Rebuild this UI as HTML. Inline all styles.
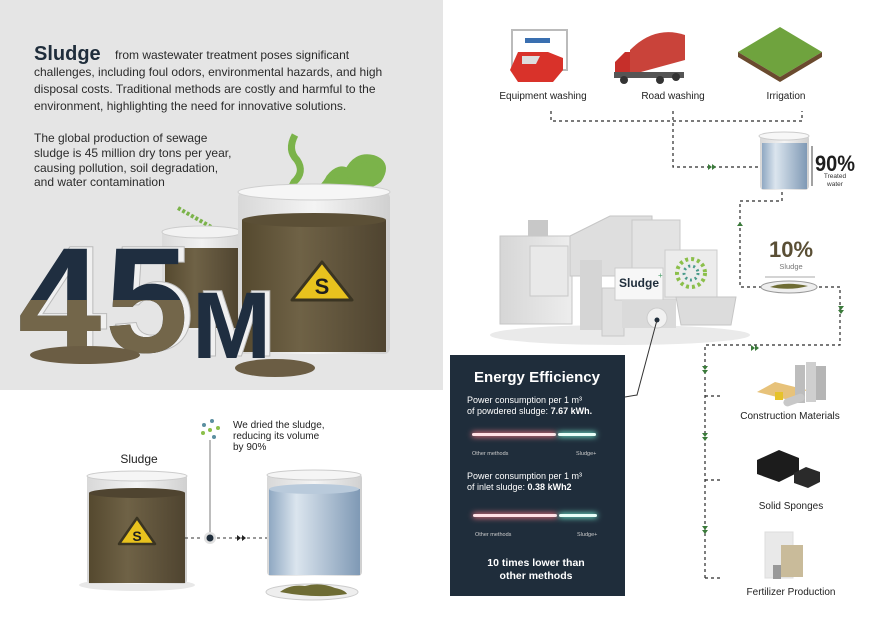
<!DOCTYPE html>
<html><head><meta charset="utf-8"><style>
html,body{margin:0;padding:0;background:#fff;}
svg{display:block;font-family:"Liberation Sans",sans-serif;}
</style></head><body>
<svg width="886" height="627" viewBox="0 0 886 627" xmlns="http://www.w3.org/2000/svg">
<defs>
<linearGradient id="glass" x1="0" x2="1"><stop offset="0" stop-color="#d8d8d8"/><stop offset="0.5" stop-color="#f4f4f4"/><stop offset="1" stop-color="#d0d0d0"/></linearGradient>
<linearGradient id="water" x1="0" x2="1"><stop offset="0" stop-color="#8fa8c2"/><stop offset="0.3" stop-color="#dbe5ee"/><stop offset="1" stop-color="#7f99b5"/></linearGradient>
<linearGradient id="mud" x1="0" x2="1"><stop offset="0" stop-color="#55492f"/><stop offset="0.4" stop-color="#6f6246"/><stop offset="1" stop-color="#4f4430"/></linearGradient>
<linearGradient id="mach" x1="0" x2="1"><stop offset="0" stop-color="#d6d6d6"/><stop offset="1" stop-color="#ededed"/></linearGradient>
<filter id="glow" x="-20%" y="-200%" width="140%" height="500%"><feGaussianBlur stdDeviation="3"/></filter>
<clipPath id="lowclip"><rect x="0" y="300" width="300" height="80"/></clipPath>
</defs>

<rect x="0" y="0" width="443" height="390" fill="#e5e5e5"/>
<text x="34" y="60" font-size="20" font-weight="bold" fill="#1f2d3b">Sludge</text>
<g font-size="12" fill="#2b2b2b">
<text x="115" y="59">from wastewater treatment poses significant</text>
<text x="34" y="76">challenges, including foul odors, environmental hazards, and high</text>
<text x="34" y="93">disposal costs. Traditional methods are costly and harmful to the</text>
<text x="34" y="110">environment, highlighting the need for innovative solutions.</text>
<text x="34" y="142">The global production of sewage</text>
<text x="34" y="157">sludge is 45 million dry tons per year,</text>
<text x="34" y="172">causing pollution, soil degradation,</text>
<text x="34" y="186">and water contamination</text>
</g>

<path d="M295 135 q-8 15 2 25 q8 12 -3 22 q-6 10 5 18" stroke="#7bb34a" stroke-width="7" fill="none"/>
<path d="M310 198 q15 -10 20 -20 q10 -12 18 -5 q8 -18 25 -14 q15 5 5 20 q-10 8 -25 6" stroke="#7bb34a" stroke-width="8" fill="#7bb34a"/>
<path d="M178 208 l35 20" stroke="#7bb34a" stroke-width="4" stroke-dasharray="3 2"/>

<rect x="162" y="230" width="80" height="100" fill="url(#glass)" opacity="0.8"/>
<rect x="165" y="248" width="75" height="80" fill="url(#mud)"/>
<ellipse cx="202" cy="232" rx="40" ry="6" fill="#f2f2f2" stroke="#ccc"/>

<rect x="238" y="192" width="152" height="162" rx="6" fill="url(#glass)"/>
<ellipse cx="314" cy="192" rx="76" ry="8" fill="#f6f6f6" stroke="#cfcfcf"/>
<rect x="242" y="220" width="144" height="132" fill="url(#mud)"/>
<ellipse cx="314" cy="220" rx="72" ry="7" fill="#5b4f36"/>
<path d="M322 262 l30 38 h-60 z" fill="#e8c21e" stroke="#3a3422" stroke-width="3" stroke-linejoin="round"/>
<text x="322" y="294" font-size="22" font-weight="bold" fill="#1e1e1e" text-anchor="middle">S</text>

<!-- 45M with 3D side -->
<g font-weight="bold" fill="#f0f0f0" stroke="#bbb" stroke-width="1">
<text x="24" y="350" font-size="150">4</text>
<text x="111" y="350" font-size="150">5</text>
<text x="197" y="356" font-size="95">M</text>
</g>
<g font-weight="bold" fill="#1f2e40">
<text x="18" y="352" font-size="150">4</text>
<text x="105" y="352" font-size="150">5</text>
<text x="192" y="358" font-size="95">M</text>
</g>
<g font-weight="bold" fill="#73664a" clip-path="url(#lowclip)">
<text x="18" y="352" font-size="150">4</text>
<text x="105" y="352" font-size="150">5</text>
</g>
<ellipse cx="85" cy="355" rx="55" ry="9" fill="#6b5d44"/>
<ellipse cx="275" cy="368" rx="40" ry="9" fill="#6b5d44"/>

<text x="139" y="463" font-size="12" fill="#222" text-anchor="middle">Sludge</text>
<ellipse cx="137" cy="585" rx="58" ry="6" fill="#e8e8e8"/>
<rect x="87" y="474" width="100" height="110" rx="4" fill="url(#glass)"/>
<rect x="89" y="493" width="96" height="90" fill="url(#mud)"/>
<ellipse cx="137" cy="493" rx="48" ry="5" fill="#4f4430"/>
<ellipse cx="137" cy="476" rx="50" ry="5" fill="#f5f5f5" stroke="#ccc"/>
<path d="M137 518 l18 26 h-36 z" fill="#e8c21e" stroke="#3a3422" stroke-width="2.5" stroke-linejoin="round"/>
<text x="137" y="541" font-size="14" font-weight="bold" fill="#1e1e1e" text-anchor="middle">S</text>

<line x1="210" y1="440" x2="210" y2="536" stroke="#bdbdbd" stroke-width="2"/>
<g fill="#5b8fa0"><circle cx="204" cy="425" r="2"/><circle cx="212" cy="421" r="2"/><circle cx="218" cy="428" r="2" fill="#8bbf4a"/><circle cx="203" cy="433" r="2" fill="#8bbf4a"/><circle cx="214" cy="437" r="2"/><circle cx="210" cy="430" r="2" fill="#8bbf4a"/></g>
<circle cx="210" cy="538" r="6" fill="#e0e0e0"/><circle cx="210" cy="538" r="3.5" fill="#1f2d3b"/>
<line x1="185" y1="538" x2="203" y2="538" stroke="#333" stroke-dasharray="3 3"/>
<line x1="217" y1="538" x2="270" y2="538" stroke="#333" stroke-dasharray="3 3"/>
<path d="M237 535 l4 3 l-4 3 z M242 535 l4 3 l-4 3 z" fill="#222"/>
<g font-size="10" fill="#222"><text x="233" y="428">We dried the sludge,</text><text x="233" y="439">reducing its volume</text><text x="233" y="450">by 90%</text></g>

<rect x="267" y="474" width="95" height="102" rx="4" fill="url(#glass)"/>
<rect x="269" y="489" width="91" height="86" fill="url(#water)"/>
<ellipse cx="314" cy="489" rx="45" ry="5" fill="#b9cadb"/>
<ellipse cx="314" cy="475" rx="47" ry="5" fill="#f5f5f5" stroke="#ccc"/>
<ellipse cx="312" cy="592" rx="46" ry="8" fill="#eee" stroke="#ccc"/>
<path d="M280 592 q10 -8 25 -6 q15 -4 30 2 q10 2 12 6 q-30 5 -67 -2z" fill="#6e6c34"/>

<g>
<rect x="512" y="30" width="55" height="40" fill="none" stroke="#bbb" stroke-width="2"/>
<rect x="525" y="38" width="25" height="5" fill="#3a6fb0"/>
<path d="M510 70 l8 -18 h30 l15 6 v12 l-10 12 h-35 z" fill="#d9322a"/>
<path d="M522 56 h18 l-4 8 h-14 z" fill="#ddd"/>
<path d="M615 62 l10 -10 h10 v25 h-20 z" fill="#c62f2a"/>
<path d="M630 50 q25 -25 55 -15 v25 l-55 15 z" fill="#c9433a"/>
<rect x="614" y="72" width="70" height="6" fill="#555"/>
<circle cx="624" cy="80" r="4" fill="#333"/><circle cx="660" cy="80" r="4" fill="#333"/><circle cx="676" cy="77" r="4" fill="#333"/>
<path d="M738 52 l42 -25 l42 25 l-42 25 z" fill="#6fa33e"/>
<path d="M738 52 v5 l42 25 l42 -25 v-5 l-42 25 z" fill="#6a4a2e"/>
</g>
<g font-size="10" fill="#222" text-anchor="middle">
<text x="543" y="99">Equipment washing</text><text x="673" y="99">Road washing</text><text x="786" y="99">Irrigation</text>
</g>
<g stroke="#2a2a2a" stroke-dasharray="3 3" fill="none" stroke-width="1.2">
<path d="M551 111 V121 H802 V111"/>
<path d="M673 111 V167 H760"/>
<path d="M782 192 V201 H740 V287 H840 V345 H705 V578"/>
<path d="M705 396 H723 M705 480 H723 M705 578 H723"/>
</g>
<g fill="#3a7a3a">
<path d="M712 167 l-4 -3 v6 z M716 167 l-4 -3 v6 z"/>
<path d="M740 222 l-3 4 h6 z"/>
<path d="M841 310 l-3 -4 h6 z M841 314 l-3 -4 h6 z"/>
<path d="M755 348 l-4 -3 v6 z M759 348 l-4 -3 v6 z"/>
<path d="M705 370 l-3 -4 h6z M705 374 l-3 -4 h6z M705 437 l-3 -4 h6z M705 441 l-3 -4 h6z M705 530 l-3 -4 h6z M705 534 l-3 -4 h6z"/>
</g>

<rect x="760" y="135" width="49" height="55" rx="4" fill="url(#glass)"/>
<rect x="762" y="143" width="45" height="46" fill="url(#water)"/>
<ellipse cx="784" cy="136" rx="25" ry="4" fill="#f7f7f7" stroke="#ccc"/>
<line x1="812" y1="146" x2="812" y2="186" stroke="#444"/>
<text x="815" y="171" font-size="22" font-weight="bold" fill="#1e1e1e" textLength="40" lengthAdjust="spacingAndGlyphs">90%</text>
<text x="835" y="178" font-size="6.5" fill="#333" text-anchor="middle">Treated</text>
<text x="835" y="186" font-size="6.5" fill="#333" text-anchor="middle">water</text>

<text x="791" y="257" font-size="22" font-weight="bold" fill="#5a4f35" text-anchor="middle" textLength="44" lengthAdjust="spacingAndGlyphs">10%</text>
<text x="791" y="269" font-size="7.5" fill="#777" text-anchor="middle">Sludge</text>
<line x1="765" y1="277" x2="815" y2="277" stroke="#aaa"/>
<ellipse cx="789" cy="287" rx="28" ry="6" fill="#eee" stroke="#999"/>
<path d="M770 287 q15 -6 38 -1 q-18 5 -38 1z" fill="#6e6c34"/>

<ellipse cx="620" cy="335" rx="130" ry="10" fill="#eaeaea"/>
<rect x="500" y="236" width="72" height="88" fill="url(#mach)" stroke="#c6c6c6"/>
<rect x="530" y="246" width="38" height="50" fill="#e9e9e9" stroke="#c8c8c8"/>
<rect x="528" y="220" width="20" height="16" fill="#c8c8c8"/>
<path d="M570 236 l40 -20 h42 v60 h-82 z" fill="#dedede" stroke="#c6c6c6"/>
<rect x="632" y="220" width="48" height="80" fill="#e3e3e3" stroke="#c8c8c8"/>
<rect x="580" y="260" width="22" height="70" fill="#d5d5d5"/>
<rect x="602" y="288" width="22" height="48" fill="#e0e0e0" stroke="#c8c8c8"/>
<rect x="615" y="268" width="48" height="32" fill="#f7f7f7" stroke="#ccc"/>
<text x="619" y="287" font-size="12" font-weight="bold" fill="#1f2d3b">Sludge</text>
<text x="658" y="278" font-size="8" fill="#4aa06a">+</text>
<rect x="665" y="250" width="52" height="47" fill="#ececec" stroke="#ccc"/>
<circle cx="691" cy="273" r="14" fill="none" stroke="#8bbf4a" stroke-width="4" stroke-dasharray="3 3"/>
<circle cx="691" cy="273" r="7" fill="none" stroke="#4a9a8a" stroke-width="3" stroke-dasharray="2 3"/>
<path d="M676 297 h60 l-5 28 h-50 z" fill="#dcdcdc" stroke="#c6c6c6"/>
<rect x="622" y="300" width="54" height="28" fill="#dadada"/>
<circle cx="657" cy="318" r="10" fill="#f1f1f1" stroke="#ccc"/>
<circle cx="657" cy="320" r="2.5" fill="#1f2d3b"/>
<path d="M657 320 L637 395 L625 397" stroke="#333" fill="none"/>

<rect x="450" y="355" width="175" height="241" fill="#1f2d3b"/>
<text x="537" y="382" font-size="15" font-weight="bold" fill="#fff" text-anchor="middle">Energy Efficiency</text>
<g font-size="9" fill="#fff">
<text x="467" y="403">Power consumption per 1 m³</text>
<text x="467" y="414">of powdered sludge: <tspan font-weight="bold">7.67 kWh.</tspan></text>
<text x="467" y="479">Power consumption per 1 m³</text>
<text x="467" y="490">of inlet sludge: <tspan font-weight="bold">0.38 kWh2</tspan></text>
</g>
<g>
<rect x="472" y="432" width="84" height="5" fill="#e0707a" filter="url(#glow)"/>
<rect x="472" y="433" width="84" height="3" rx="1.5" fill="#ffe0e4"/>
<rect x="558" y="432" width="38" height="5" fill="#6fe0c8" filter="url(#glow)"/>
<rect x="558" y="433" width="38" height="3" rx="1.5" fill="#e8fff8"/>
<rect x="473" y="513" width="84" height="5" fill="#e0707a" filter="url(#glow)"/>
<rect x="473" y="514" width="84" height="3" rx="1.5" fill="#ffe0e4"/>
<rect x="559" y="513" width="38" height="5" fill="#6fe0c8" filter="url(#glow)"/>
<rect x="559" y="514" width="38" height="3" rx="1.5" fill="#e8fff8"/>
</g>
<g font-size="5.5" fill="#ccc">
<text x="472" y="455">Other methods</text><text x="576" y="455">Sludge+</text>
<text x="475" y="536">Other methods</text><text x="577" y="536">Sludge+</text>
</g>
<text x="536" y="566" font-size="10.5" font-weight="bold" fill="#fff" text-anchor="middle">10 times lower than</text>
<text x="536" y="579" font-size="10.5" font-weight="bold" fill="#fff" text-anchor="middle">other methods</text>

<path d="M757 392 l18 -10 l32 8 l-18 10 z" fill="#e7c27a"/>
<rect x="795" y="365" width="10" height="38" fill="#bdbdbd"/><rect x="806" y="362" width="10" height="40" fill="#cfcfcf"/><rect x="816" y="366" width="10" height="34" fill="#b5b5b5"/>
<rect x="783" y="396" width="22" height="8" rx="4" fill="#c8c8c8" transform="rotate(-20 794 400)"/>
<rect x="775" y="392" width="8" height="8" fill="#e6c22a"/>
<text x="790" y="419" font-size="10" fill="#222" text-anchor="middle">Construction Materials</text>
<path d="M757 460 l22 -10 l20 8 v14 l-20 10 l-22 -8z" fill="#1c1c1c"/>
<path d="M794 473 l12 -6 l14 5 v10 l-12 6 l-14 -5z" fill="#2a2a2a"/>
<text x="791" y="509" font-size="10" fill="#222" text-anchor="middle">Solid Sponges</text>
<rect x="765" y="532" width="28" height="46" fill="#e9e9e9" stroke="#ddd"/>
<rect x="781" y="545" width="22" height="32" fill="#c9bb9a"/>
<rect x="773" y="565" width="8" height="14" fill="#999"/>
<text x="791" y="595" font-size="10" fill="#222" text-anchor="middle">Fertilizer Production</text>
</svg>
</body></html>
